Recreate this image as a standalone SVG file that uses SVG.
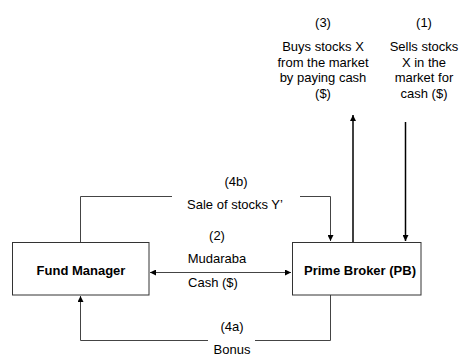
<svg xmlns="http://www.w3.org/2000/svg" width="461" height="356" viewBox="0 0 461 356">
  <style>
    text { font-family: "Liberation Sans", Arial, sans-serif; font-size: 13px; fill: #000; text-anchor: middle; }
    .bold { font-weight: bold; }
    .box { fill: #fff; stroke: #333; stroke-width: 1; }
    .thin { fill: none; stroke: #444; stroke-width: 1; }
    .thick { fill: none; stroke: #000; stroke-width: 1.5; }
  </style>
  <defs>
    <marker id="arrow" viewBox="0 0 10 10" refX="10" refY="5" markerWidth="6" markerHeight="6" markerUnits="userSpaceOnUse" orient="auto-start-reverse">
      <path d="M0,0 L10,5 L0,10 z" fill="#000"/>
    </marker>
  </defs>

  <rect width="461" height="356" fill="#fff"/>

  <g id="connectors">
    <!-- (4b) sale of stocks Y' : Fund Manager to Prime Broker -->
    <polyline class="thin" points="80.5,242 80.5,196.5 172,196.5"/>
    <polyline class="thin" points="300,196.5 330.5,196.5 330.5,241" marker-end="url(#arrow)"/>
    <!-- (2) Mudaraba / cash, both ways -->
    <line class="thin" x1="150" y1="272.5" x2="291" y2="272.5" marker-start="url(#arrow)" marker-end="url(#arrow)"/>
    <!-- (4a) bonus : Prime Broker back to Fund Manager -->
    <polyline class="thin" points="330.5,295 330.5,340.5 255,340.5"/>
    <polyline class="thin" points="208,340.5 80.5,340.5 80.5,296" marker-end="url(#arrow)"/>
    <!-- (3) buys from market -->
    <line class="thick" x1="353" y1="242" x2="353" y2="115" marker-end="url(#arrow)"/>
    <!-- (1) sells in market -->
    <line class="thick" x1="405.5" y1="122" x2="405.5" y2="241" marker-end="url(#arrow)"/>
  </g>

  <g id="fund-manager">
    <rect class="box" x="12.5" y="242.5" width="136.5" height="52.5"/>
    <text class="bold" x="81" y="275">Fund Manager</text>
  </g>

  <g id="prime-broker">
    <rect class="box" x="292.5" y="242.5" width="128.5" height="52.5"/>
    <text class="bold" x="360" y="275">Prime Broker (PB)</text>
  </g>

  <g id="labels">
    <text x="323" y="27">(3)</text>
    <text x="323" y="51">Buys stocks X</text>
    <text x="323" y="67">from the market</text>
    <text x="323" y="82">by paying cash</text>
    <text x="323" y="98">($)</text>

    <text x="424" y="27">(1)</text>
    <text x="424" y="51">Sells stocks</text>
    <text x="424" y="67">X in the</text>
    <text x="424" y="82">market for</text>
    <text x="424" y="98">cash ($)</text>

    <text x="236" y="186">(4b)</text>
    <text x="235" y="209">Sale of stocks Y’</text>

    <text x="217" y="240">(2)</text>
    <text x="217" y="263">Mudaraba</text>
    <text x="213" y="287">Cash ($)</text>

    <text x="232" y="331">(4a)</text>
    <text x="232" y="354">Bonus</text>
  </g>
</svg>
